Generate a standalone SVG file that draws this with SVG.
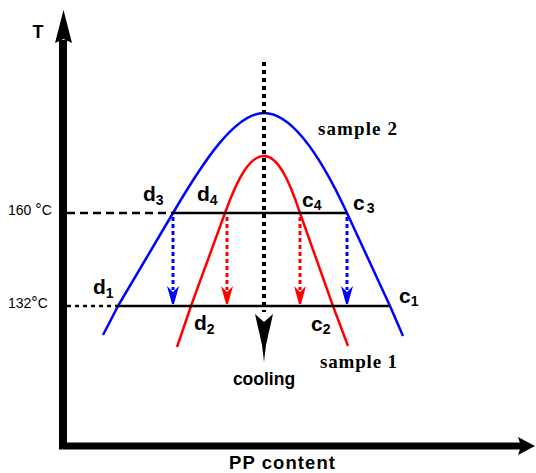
<svg xmlns="http://www.w3.org/2000/svg" width="536" height="473" viewBox="0 0 536 473">
<style>
.ax{stroke:#000;fill:none}
.lbl{font-family:"Liberation Sans",Arial,sans-serif;font-weight:bold;font-size:21px;fill:#000}
.sub{font-size:14px}
.tmp{font-family:"Liberation Sans",Arial,sans-serif;font-size:14px;fill:#000}
.deg{font-size:16px}
.smp{font-family:"Liberation Serif","Times New Roman",serif;font-weight:bold;font-size:19px;fill:#000}
.blue{stroke:#0000ff}
.red{stroke:#ff0000}
.curve{fill:none;stroke-width:2.5;stroke-linejoin:round}
.dd{fill:none;stroke-width:3;stroke-dasharray:4 3}
</style>
<rect width="536" height="473" fill="#fff"/>
<g id="axes">
<line class="ax" x1="63" y1="40" x2="63" y2="449" stroke-width="8"/>
<polygon points="63.5,10 72,43 63.5,39 55,43" fill="#000"/>
<line class="ax" x1="59" y1="446" x2="521" y2="446" stroke-width="7"/>
<polygon points="535,446 518,455 521,446 518,437" fill="#000"/>
<text x="38" y="38" class="lbl" text-anchor="middle" style="font-size:18px">T</text>
<text x="282" y="469" class="lbl" text-anchor="middle" style="font-size:18.5px" textLength="106">PP content</text>
</g>
<g id="curves">
<path id="sample2" class="curve blue" d="M103,335 L118,306 L173,213 C203,162 235,113 264,113 C293,113 322,159 347,213 L390,306 L403,336"/>
<path id="sample1" class="curve red" d="M177,347 L191,306 L225,213 C238,177 250,156 264,156 C278,156 289,180 300,213 L333,306 L348,346"/>
</g>
<g id="connectors">
<line x1="67" y1="213" x2="173" y2="213" stroke="#000" stroke-width="2.5" stroke-dasharray="8 5"/>
<line x1="173" y1="213" x2="347" y2="213" stroke="#000" stroke-width="2.5"/>
<line x1="67" y1="306" x2="118" y2="306" stroke="#000" stroke-width="2.5" stroke-dasharray="4 4"/>
<line x1="118" y1="306" x2="390" y2="306" stroke="#000" stroke-width="2.5"/>
<line class="dd blue" x1="173" y1="217" x2="173" y2="290"/>
<polygon points="167,286 173,292 179,286 174,304 172,304" fill="#0000ff"/>
<line class="dd red" x1="227" y1="217" x2="227" y2="290"/>
<polygon points="221,286 227,292 233,286 228,304 226,304" fill="#ff0000"/>
<line class="dd red" x1="300" y1="217" x2="300" y2="290"/>
<polygon points="294,286 300,292 306,286 301,304 299,304" fill="#ff0000"/>
<line class="dd blue" x1="347" y1="217" x2="347" y2="290"/>
<polygon points="341,286 347,292 353,286 348,304 346,304" fill="#0000ff"/>
<line x1="264" y1="62" x2="264" y2="312" stroke="#000" stroke-width="4" stroke-dasharray="4 4"/>
<polygon points="255,314 264,322 273,314 266,345 264,362 262,345" fill="#000"/>
</g>
<g id="labels">
<text x="8" y="215" class="tmp">160 <tspan class="deg">°</tspan>C</text>
<text x="8" y="308" class="tmp">132<tspan class="deg">°</tspan>C</text>
<text x="143" y="201" class="lbl">d<tspan class="sub" dy="4">3</tspan></text>
<text x="197" y="201" class="lbl">d<tspan class="sub" dy="4">4</tspan></text>
<text x="302" y="207" class="lbl">c<tspan class="sub" dy="3">4</tspan></text>
<text x="353" y="210" class="lbl">c<tspan class="sub" dx="2" dy="3">3</tspan></text>
<text x="93" y="294" class="lbl">d<tspan class="sub" dy="4">1</tspan></text>
<text x="399" y="303" class="lbl">c<tspan class="sub" dy="3">1</tspan></text>
<text x="194" y="330" class="lbl">d<tspan class="sub" dy="4">2</tspan></text>
<text x="311" y="331" class="lbl">c<tspan class="sub" dy="3">2</tspan></text>
<text x="318" y="135" class="smp" textLength="79">sample 2</text>
<text x="320" y="368" class="smp" textLength="77">sample 1</text>
<text x="264" y="385" class="lbl" text-anchor="middle" style="font-size:17.5px">cooling</text>
</g>
</svg>
